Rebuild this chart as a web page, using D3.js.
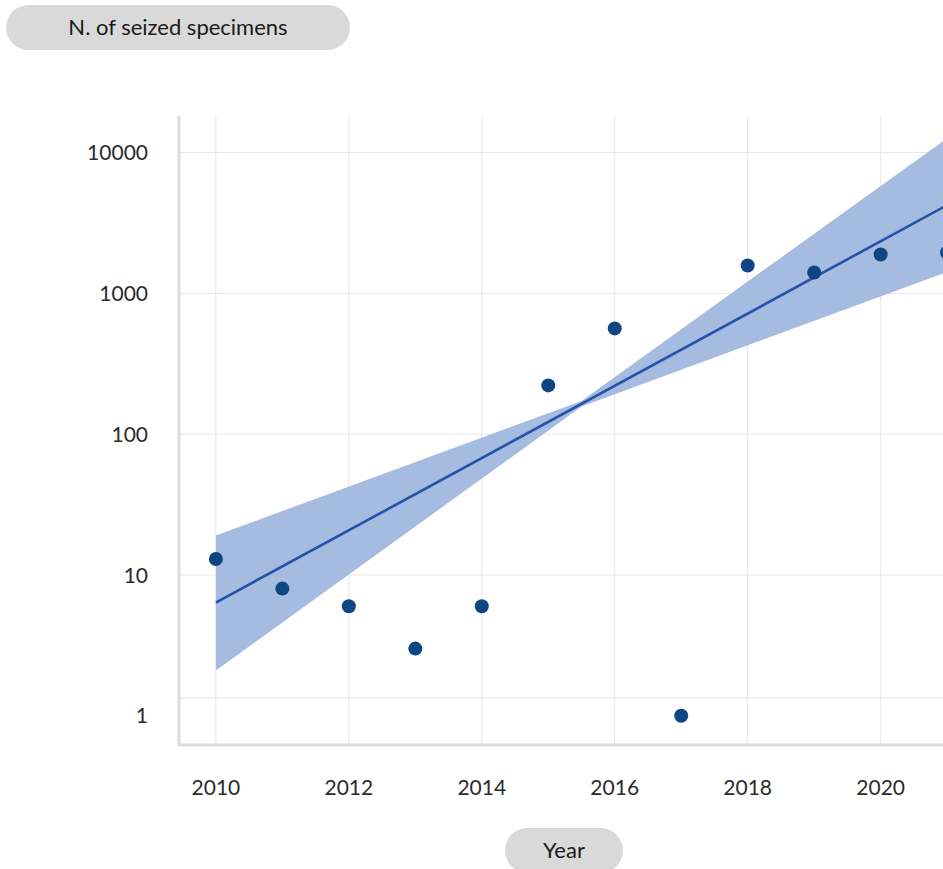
<!DOCTYPE html>
<html>
<head>
<meta charset="utf-8">
<script src="https://cdn.jsdelivr.net/npm/d3@7"></script>
<style>
  body { margin: 0; background: #fff; overflow: hidden; }
  text { font-family: Lato, sans-serif; }
</style>
</head>
<body>
<div id="chart"></div>
<script>
// seized specimens per year
var years = [2010, 2011, 2012, 2013, 2014, 2015, 2016, 2017, 2018, 2019, 2020, 2021];
var seized = [13, 8, 6, 3, 6, 222, 564, 1, 1578, 1406, 1888, 1950];

// fitted trend (log scale) and its band
var fitYears = [2010, 2021];
var fitValues = [6.37, 4236];
var bandYears = [2010, 2015.5, 2021];
var bandLow = [2.10, 157, 1422];
var bandHigh = [19.08, 172, 12650];

var xGrid = [2010, 2012, 2014, 2016, 2018, 2020, 2022];
var xTicks = [2010, 2012, 2014, 2016, 2018, 2020];
var yTicks = [1, 10, 100, 1000, 10000];
var gridValues = [1.34, 10, 100, 1000, 10000];

var _grid = "#e6e6e6",
    _axis = "#dcdcdc",
    _pill = "#d9d9d9",
    _text = "#2b2b2b";

var width = 943,
    height = 869;

var svg = d3.select("#chart")
    .append("svg")
    .attr("width", width)
    .attr("height", height);

var x = d3.scaleLinear()
    .domain([2009.43, 2021.57])
    .range([178, 985]);

var y = d3.scaleLog()
    .domain([0.62, 17900])
    .range([745, 117]);

// grid
svg.selectAll(".hgrid")
    .data(gridValues).enter()
    .append("line")
    .attr("class", "hgrid")
    .attr("x1", 178).attr("x2", 985)
    .attr("y1", function(d) { return y(d); })
    .attr("y2", function(d) { return y(d); })
    .style("stroke", _grid)
    .style("stroke-width", 1);

svg.selectAll(".vgrid")
    .data(xGrid).enter()
    .append("line")
    .attr("class", "vgrid")
    .attr("x1", function(d) { return x(d); })
    .attr("x2", function(d) { return x(d); })
    .attr("y1", 116).attr("y2", 745)
    .style("stroke", _grid)
    .style("stroke-width", 1);

// band
var band = d3.area()
    .x(function(d, i) { return x(bandYears[i]); })
    .y0(function(d, i) { return y(bandLow[i]); })
    .y1(function(d, i) { return y(bandHigh[i]); });

svg.append("path")
    .datum(bandYears)
    .attr("d", band)
    .style("fill", "#a5bbe0")
    .style("stroke", "none");

// trend line
svg.append("path")
    .datum(fitYears)
    .attr("d", d3.line()
        .x(function(d) { return x(d); })
        .y(function(d, i) { return y(fitValues[i]); }))
    .style("fill", "none")
    .style("stroke", "#2352a6")
    .style("stroke-width", 2.6);

// points
svg.selectAll(".dot")
    .data(years).enter()
    .append("circle")
    .attr("class", "dot")
    .attr("cx", function(d) { return x(d); })
    .attr("cy", function(d, i) { return y(seized[i]); })
    .attr("r", 7)
    .style("fill", "#0d4683");

// axis lines
svg.append("line")
    .attr("x1", 179).attr("x2", 179)
    .attr("y1", 116).attr("y2", 746)
    .style("stroke", _axis)
    .style("stroke-width", 3);

svg.append("line")
    .attr("x1", 178).attr("x2", 985)
    .attr("y1", 745).attr("y2", 745)
    .style("stroke", _axis)
    .style("stroke-width", 3);

// tick labels
svg.selectAll(".ylabel")
    .data(yTicks).enter()
    .append("text")
    .attr("class", "ylabel")
    .attr("x", 148)
    .attr("y", function(d) { return y(d); })
    .attr("dy", "0.36em")
    .style("text-anchor", "end")
    .style("font-size", "21px")
    .style("fill", _text)
    .text(function(d) { return d; });

svg.selectAll(".xlabel")
    .data(xTicks).enter()
    .append("text")
    .attr("class", "xlabel")
    .attr("x", function(d) { return x(d); })
    .attr("y", 795)
    .style("text-anchor", "middle")
    .style("font-size", "21px")
    .style("fill", _text)
    .text(function(d) { return d; });

// axis title pills
function pill(cx, cy, w, h, label) {
    var g = svg.append("g");
    g.append("rect")
        .attr("x", cx - w / 2)
        .attr("y", cy - h / 2)
        .attr("width", w)
        .attr("height", h)
        .attr("rx", h / 2)
        .style("fill", _pill);
    g.append("text")
        .attr("x", cx)
        .attr("y", cy)
        .attr("dy", "0.36em")
        .style("text-anchor", "middle")
        .style("font-size", "22px")
        .style("fill", "#1a1a1a")
        .text(label);
}

pill(178, 27.5, 344, 45, "N. of seized specimens");
pill(564, 850.5, 118, 45, "Year");
</script>
</body>
</html>
